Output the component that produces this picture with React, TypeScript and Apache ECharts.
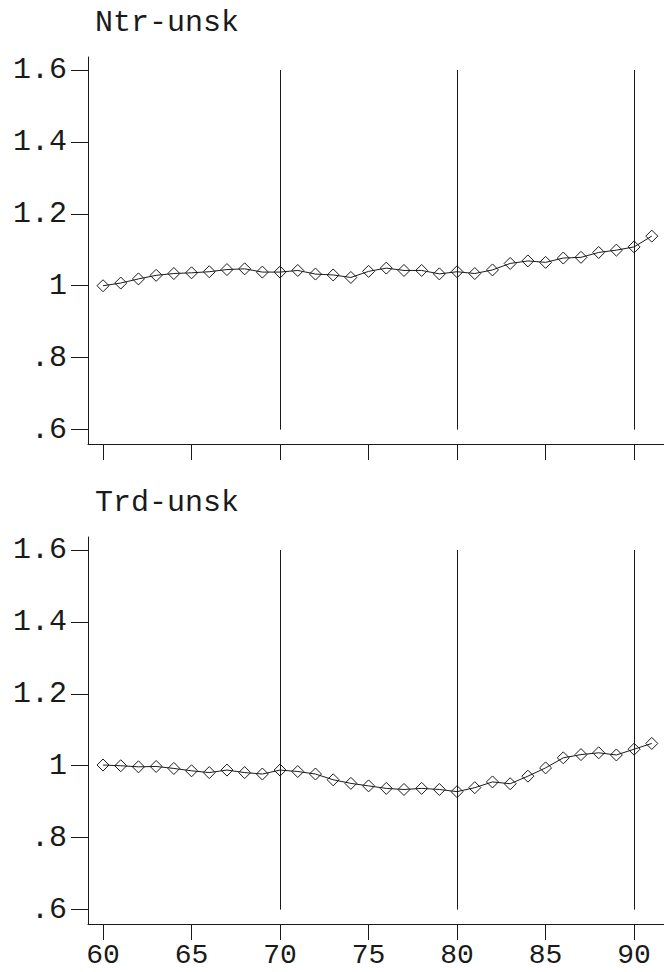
import React, { useEffect, useRef } from "react";
import * as echarts from "echarts";

const years = [60, 61, 62, 63, 64, 65, 66, 67, 68, 69, 70, 71, 72, 73, 74, 75, 76, 77, 78, 79, 80, 81, 82, 83, 84, 85, 86, 87, 88, 89, 90, 91];

const ntrUnsk = [1.0, 1.0075, 1.019, 1.029, 1.034, 1.036, 1.039, 1.045, 1.047, 1.038, 1.038, 1.0425, 1.0325, 1.03, 1.023, 1.04, 1.049, 1.0425, 1.0425, 1.033, 1.039, 1.034, 1.044, 1.062, 1.069, 1.065, 1.077, 1.079, 1.0925, 1.099, 1.108, 1.138];

const trdUnsk = [1.002, 1.0, 0.997, 0.998, 0.9925, 0.986, 0.981, 0.988, 0.981, 0.977, 0.988, 0.984, 0.977, 0.961, 0.951, 0.944, 0.937, 0.934, 0.937, 0.934, 0.928, 0.939, 0.955, 0.95, 0.971, 0.994, 1.022, 1.031, 1.036, 1.03, 1.046, 1.062];

const panelTitles = ["Ntr-unsk", "Trd-unsk"];
const xTicks = [60, 65, 70, 75, 80, 85, 90];
const yTicks = [0.6, 0.8, 1, 1.2, 1.4, 1.6];
const yTickLabels = [".6", ".8", "1", "1.2", "1.4", "1.6"];
const refYears = [70, 80, 90];

const FONT = "Liberation Mono";
const INK = "#1a1a1a";

export default function App() {
  const ref = useRef<HTMLDivElement>(null);

  useEffect(() => {
    if (!ref.current) return;
    const chart = echarts.init(ref.current, null, { renderer: "svg" });

    const seriesData = [ntrUnsk, trdUnsk];
    const grids = [
      { left: 88, top: 57, width: 576, height: 387 },
      { left: 88, top: 537, width: 576, height: 387 },
    ];

    const xAxes = grids.map((_, i) => ({
      type: "value",
      gridIndex: i,
      min: 59.15,
      max: 91.69,
      axisLine: { show: true, lineStyle: { color: INK, width: 1 } },
      axisTick: { show: true, length: 16, customValues: xTicks, lineStyle: { color: INK, width: 1 } },
      axisLabel: {
        show: i === 1,
        customValues: xTicks,
        margin: 17,
        fontFamily: FONT,
        fontSize: 28,
        color: INK,
      },
      splitLine: { show: false },
    }));

    const yAxes = grids.map((_, i) => ({
      type: "value",
      gridIndex: i,
      min: 0.56,
      max: 1.636,
      axisLine: { show: true, lineStyle: { color: INK, width: 1 } },
      axisTick: { show: true, length: 17, customValues: yTicks, lineStyle: { color: INK, width: 1 } },
      axisLabel: {
        show: true,
        customValues: yTicks,
        margin: 21,
        fontFamily: FONT,
        fontSize: 30,
        color: INK,
        padding: [7, 0, 0, 0],
        formatter: (v: number) => {
          const idx = yTicks.findIndex((t) => Math.abs(t - v) < 1e-6);
          return idx >= 0 ? yTickLabels[idx] : "";
        },
      },
      splitLine: { show: false },
    }));

    const series = seriesData.map((vals, i) => ({
      type: "line",
      xAxisIndex: i,
      yAxisIndex: i,
      data: years.map((y, j) => [y, vals[j]]),
      symbol: "diamond",
      symbolSize: 12,
      showSymbol: true,
      lineStyle: { color: INK, width: 1 },
      itemStyle: { color: "rgba(255,255,255,0)", borderColor: INK, borderWidth: 1 },
      markLine: {
        silent: true,
        symbol: ["none", "none"],
        label: { show: false },
        lineStyle: { color: INK, width: 1, type: "solid" },
        data: refYears.map((yr) => [
          { coord: [yr, yTicks[yTicks.length - 1]] },
          { coord: [yr, yTicks[0]] },
        ]),
      },
      z: 3,
    }));

    chart.setOption({
      animation: false,
      backgroundColor: "#fff",
      grid: grids,
      xAxis: xAxes,
      yAxis: yAxes,
      series,
      graphic: [
        {
          type: "text",
          x: 95,
          y: 23,
          style: { text: panelTitles[0], font: `30px "${FONT}"`, fill: INK, verticalAlign: "middle" },
        },
        {
          type: "text",
          x: 95,
          y: 503,
          style: { text: panelTitles[1], font: `30px "${FONT}"`, fill: INK, verticalAlign: "middle" },
        },
      ],
    });

    return () => chart.dispose();
  }, []);

  return (
    <div
      ref={ref}
      style={{ position: "fixed", left: 0, top: 0, width: 664, height: 972, background: "#fff" }}
    />
  );
}
